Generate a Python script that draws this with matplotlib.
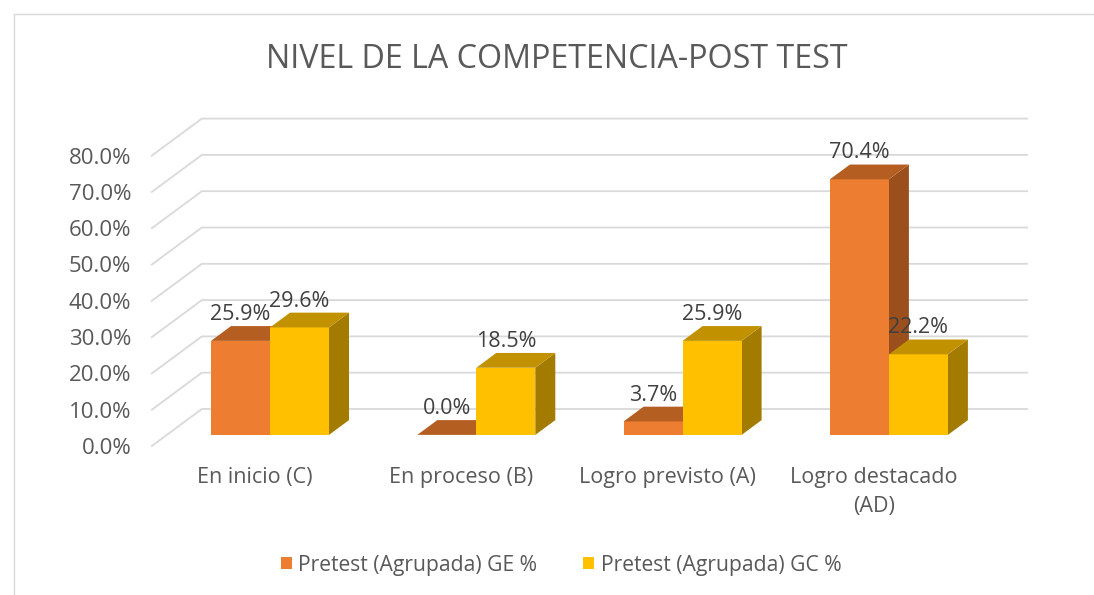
import numpy as np
import matplotlib.pyplot as plt
from matplotlib.patches import Polygon, Patch, Rectangle

categorias = ["En inicio (C)", "En proceso (B)", "Logro previsto (A)", "Logro destacado\n(AD)"]
ge = [25.9, 0.0, 3.7, 70.4]
gc = [29.6, 18.5, 25.9, 22.2]
series = ["Pretest (Agrupada) GE %", "Pretest (Agrupada) GC %"]
ticks_y = [0, 10, 20, 30, 40, 50, 60, 70, 80]

# colores: frente, tapa, lado
col_ge = ("#ED7D31", "#B45E22", "#9A4F1D")
col_gc = ("#FFC000", "#C29100", "#A37B00")

W, H = 1094, 595
# escala en pixeles por unidad
PX_X = 206.3
PX_Y = 3.63
DX = 50 / PX_X      # profundidad total del piso
DY = 37 / PX_Y
D0, D1 = 0.3, 0.7   # profundidad de las barras
ANCHO = 59 / PX_X


def proj(x, v, d):
    # proyeccion oblicua simple
    return (x + d * DX, v + d * DY)


def barra(ax, x0, v, cols):
    x1 = x0 + ANCHO
    frente = [proj(x0, 0, D0), proj(x1, 0, D0), proj(x1, v, D0), proj(x0, v, D0)]
    tapa = [proj(x0, v, D0), proj(x1, v, D0), proj(x1, v, D1), proj(x0, v, D1)]
    lado = [proj(x1, 0, D0), proj(x1, 0, D1), proj(x1, v, D1), proj(x1, v, D0)]
    ax.add_patch(Polygon(lado, closed=True, fc=cols[2], ec="none"))
    ax.add_patch(Polygon(frente, closed=True, fc=cols[0], ec="none"))
    ax.add_patch(Polygon(tapa, closed=True, fc=cols[1], ec="none"))


plt.rcParams["font.family"] = ["Open Sans", "DejaVu Sans"]

fig = plt.figure(figsize=(W / 100, H / 100), dpi=100)
left_px, right_px, top_px, bot_px = 136, 1060, 100, 460
ax = fig.add_axes([left_px / W, 1 - bot_px / H, (right_px - left_px) / W, (bot_px - top_px) / H])
ax.set_xlim((left_px - 255) / PX_X, (right_px - 255) / PX_X)
ax.set_ylim((446 - bot_px) / PX_Y, (446 - top_px) / PX_Y)

# lineas de cuadricula (pared de fondo y pared izquierda)
gris = "#D9D9D9"
for v in ticks_y:
    a = proj(-0.5, v, 0)
    b = proj(-0.5, v, 1)
    c = proj(3.5, v, 1)
    ax.plot([a[0], b[0], c[0]], [a[1], b[1], c[1]], color=gris, lw=1.3, zorder=0,
            solid_joinstyle="miter")

for i in range(len(categorias)):
    xc = i - ANCHO
    barra(ax, xc, ge[i], col_ge)
    barra(ax, xc + ANCHO, gc[i], col_gc)

for i in range(len(categorias)):
    for j, vals in enumerate([ge, gc]):
        x0 = i - ANCHO + j * ANCHO
        xm, _ = proj(x0 + ANCHO / 2, 0, D0)
        _, yt = proj(0, vals[i], D1)
        ax.text(xm, yt + 0.3, f"{vals[i]:.1f}%", ha="center", va="bottom",
                fontsize=15.5, color="#404040", zorder=5)

ax.set_yticks(ticks_y)
ax.set_yticklabels([f"{t:.1f}%" for t in ticks_y])
ax.set_xticks(range(len(categorias)))
ax.set_xticklabels(categorias)
ax.tick_params(axis="y", length=0, pad=3.5, labelsize=16, labelcolor="#595959")
ax.tick_params(axis="x", length=0, pad=5, labelsize=15.5, labelcolor="#595959")
for t in ax.get_xticklabels():
    t.set_linespacing(1.5)
for s in ax.spines.values():
    s.set_visible(False)
ax.patch.set_alpha(0)

fig.text(557 / W, 1 - 60 / H, "NIVEL DE LA COMPETENCIA-POST TEST", ha="center", va="center",
         fontsize=23.2, color="#595959")

handles = [Patch(facecolor=col_ge[0]), Patch(facecolor=col_gc[0])]
fig.legend(handles, series, loc="center", bbox_to_anchor=(561 / W, 1 - 565 / H), ncol=2,
           frameon=False, fontsize=15.2, labelcolor="#595959", handlelength=0.55,
           handleheight=0.55, handletextpad=0.3, columnspacing=2.15)

# borde del grafico
fig.patches.append(Rectangle((14 / W, -0.1), 1.2, 1 - 14 / H + 0.1, transform=fig.transFigure,
                             fill=False, ec=gris, lw=1))

fig.savefig("out.png", dpi=100)
